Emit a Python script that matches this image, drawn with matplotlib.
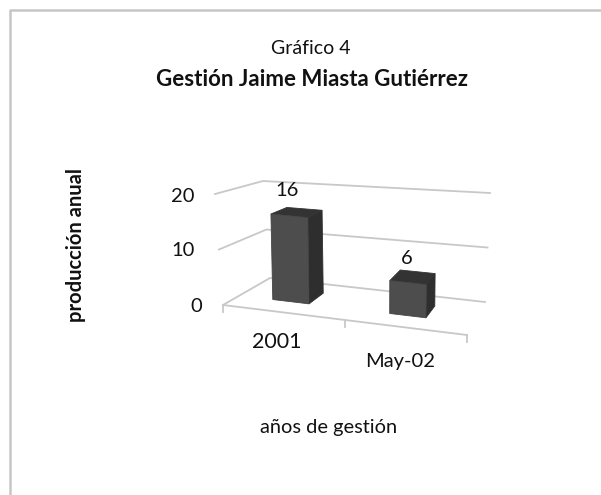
import matplotlib
matplotlib.use('Agg')
import matplotlib.pyplot as plt
from matplotlib.patches import Polygon

plt.rcParams['font.family'] = ['Lato', 'DejaVu Sans']

title_top = "Gráfico 4"
title_main = "Gestión Jaime Miasta Gutiérrez"
xlabel = "años de gestión"
ylabel = "producción anual"
categories = ["2001", "May-02"]
values = [16, 6]
yticks = [0, 10, 20]

# corners of the fake 3d box in pixels, (x, depth, level)
corners = {
    (0, 0, 0): (223, 305), (1, 0, 0): (467, 335),
    (0, 1, 0): (270, 278), (1, 1, 0): (485, 302),
    (0, 0, 1): (215, 194), (1, 0, 1): (473, 222),
    (0, 1, 1): (263, 181), (1, 1, 1): (490, 193),
}


def project(x, d, v):
    # trilinear, x in 0..2 categories, d in 0..1, v in 0..20
    u, w = x / 2.0, v / 20.0
    px, py = 0.0, 0.0
    for (a, b, c), (cx, cy) in corners.items():
        f = (u if a else 1 - u) * (d if b else 1 - d) * (w if c else 1 - w)
        px += f * cx
        py += f * cy
    return px, py


def bar_point(x, d, v):
    # bars lean less than the walls do
    px, py = project(x, d, v)
    fx = project(x, d, 0)[0]
    return fx + 0.4 * (px - fx), py


fig = plt.figure(figsize=(6.01, 4.95), dpi=100)
ax = fig.add_axes([0, 0, 1, 1])
ax.set_xlim(0, 601)
ax.set_ylim(495, 0)
ax.axis('off')

# outer frame, only top and left are there
ax.plot([9.5, 9.5, 601], [495, 10, 10], color='#c6c6c6', lw=1.8, solid_capstyle='butt')

grid = '#c8c8c8'
for t in yticks:
    pts = [project(0, 0, t), project(0, 1, t), project(2, 1, t)]
    ax.plot([p[0] for p in pts], [p[1] for p in pts], color=grid, lw=1.3, zorder=1)

# floor front line and its ticks
a, b = project(0, 0, 0), project(2, 0, 0)
ax.plot([a[0], b[0]], [a[1], b[1]], color=grid, lw=1.3, zorder=1)
for i in range(3):
    a = project(i, 0, 0)
    ax.plot([a[0], a[0]], [a[1], a[1] + 7], color=grid, lw=1.3, zorder=1)

# bars
bar_w, d0, d1 = 0.31, 0.35, 0.72
for i, v in enumerate(values):
    l, r = i + 0.285, i + 0.285 + bar_w
    top = [bar_point(l, d0, v), bar_point(r, d0, v), bar_point(r, d1, v), bar_point(l, d1, v)]
    side = [bar_point(r, d0, 0), bar_point(r, d0, v), bar_point(r, d1, v), bar_point(r, d1, 0)]
    front = [bar_point(l, d0, 0), bar_point(r, d0, 0), bar_point(r, d0, v), bar_point(l, d0, v)]
    ax.add_patch(Polygon(side, fc='#2e2e2e', ec='#2e2e2e', lw=0.6, zorder=3))
    ax.add_patch(Polygon(top, fc='#333333', ec='#333333', lw=0.6, zorder=3))
    ax.add_patch(Polygon(front, fc='#4d4d4d', ec='#444444', lw=0.6, zorder=4))

tc = '#111111'
ax.text(311, 48, title_top, fontsize=14, color=tc, ha='center', va='center')
ax.text(312, 80, title_main, fontsize=16, fontweight='bold', color=tc, ha='center', va='center')
ax.text(76, 245, ylabel, fontsize=14.5, fontweight='bold', color=tc, rotation=90, ha='center', va='center')
ax.text(329, 428, xlabel, fontsize=14.4, color=tc, ha='center', va='center')

for t, (tx, ty) in zip(yticks, [(196, 306), (183, 251), (183, 196)]):
    ax.text(tx, ty, str(t), fontsize=14.5, color=tc, ha='center', va='center')

for lab, (tx, ty) in zip(values, [(287, 191), (407, 258)]):
    ax.text(tx, ty, str(lab), fontsize=14.5, color=tc, ha='center', va='center')

ax.text(277, 342, categories[0], fontsize=15.5, color=tc, ha='center', va='center')
ax.text(400, 362, categories[1], fontsize=14.5, color=tc, ha='center', va='center')

fig.savefig('out.png', dpi=100)
